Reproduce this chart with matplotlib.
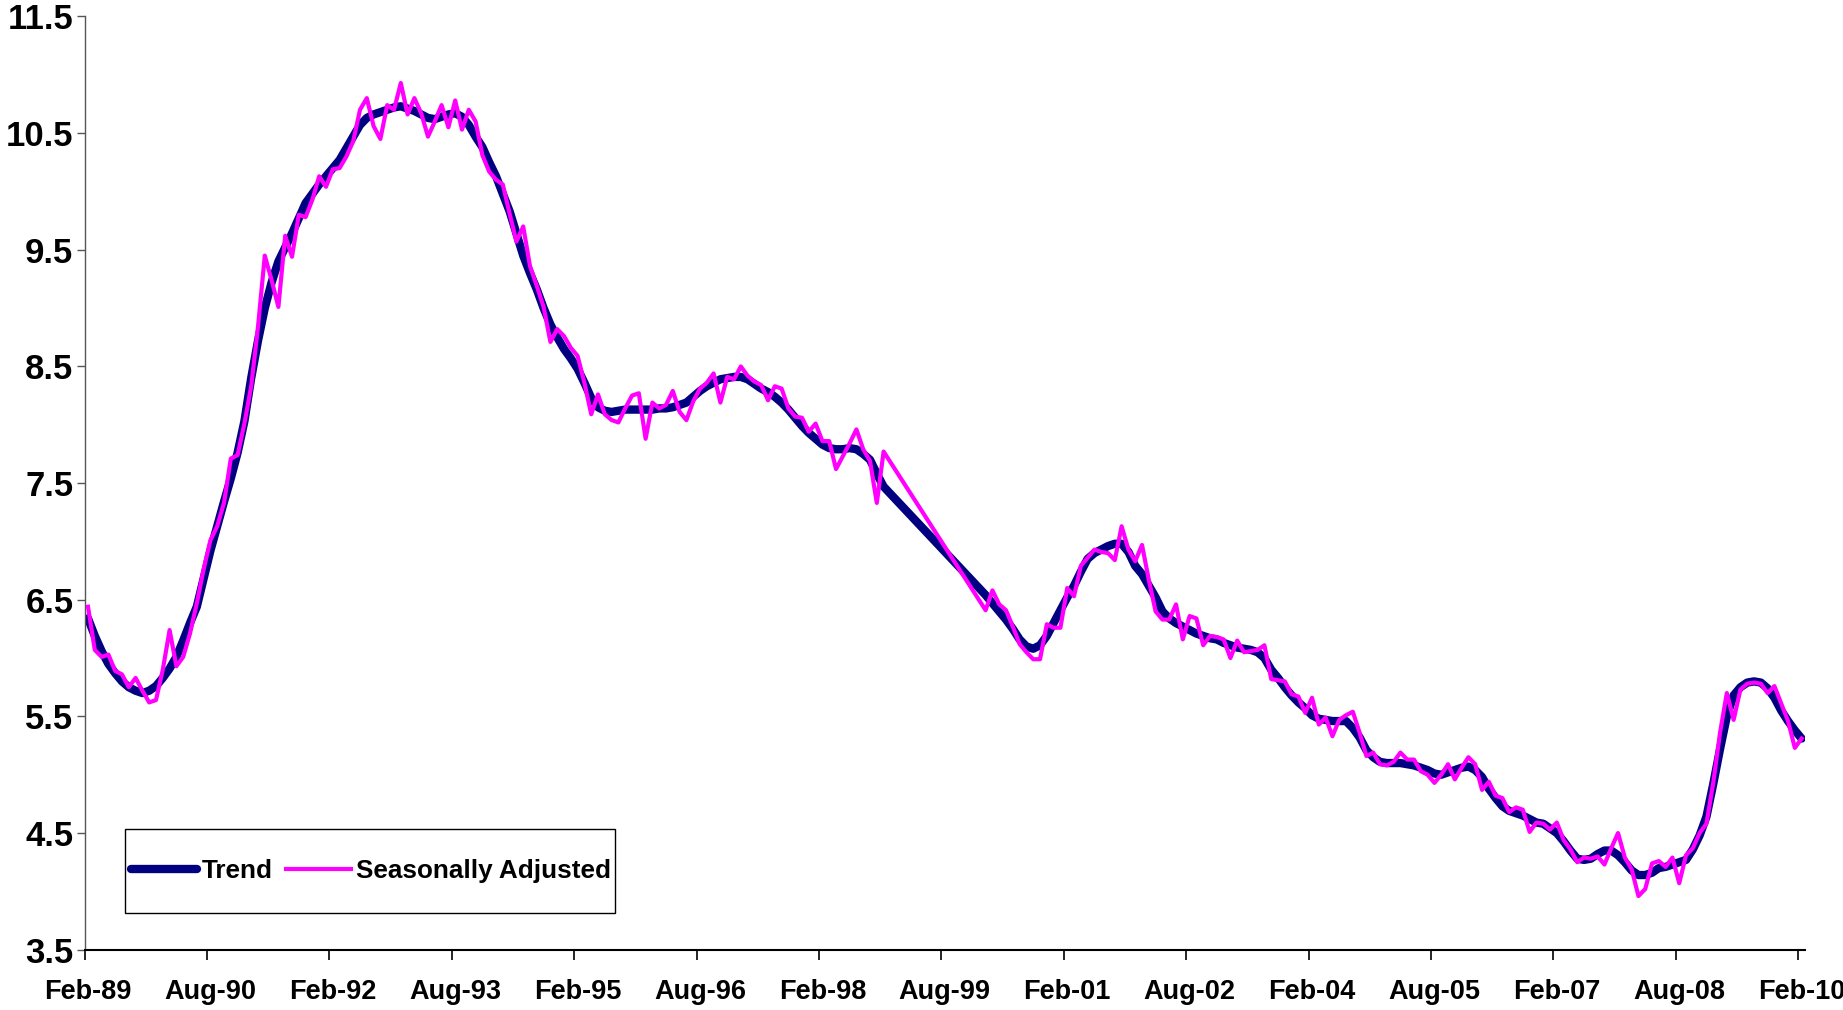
import numpy as np
import pandas as pd
import matplotlib
matplotlib.use("Agg")
import matplotlib.pyplot as plt
from matplotlib.patches import Rectangle

# ---------------- data ----------------
start_month = "1989-02"
n_months = 253

tick_labels = ["Feb-89", "Aug-90", "Feb-92", "Aug-93", "Feb-95", "Aug-96", "Feb-98",
               "Aug-99", "Feb-01", "Aug-02", "Feb-04", "Aug-05", "Feb-07", "Aug-08", "Feb-10"]

N = None
trend = [
    6.34, 6.19, 6.06, 5.95, 5.87, 5.80, 5.75, 5.72, 5.70, 5.72, 5.76, 5.83, 5.91, 6.01, 6.15, 6.30,
    6.44, 6.68, 6.92, 7.13, 7.34, 7.54, 7.76, 8.03, 8.40, 8.72, 9.00, 9.22, 9.40, 9.52, 9.64, 9.77,
    9.90, 9.98, 10.06, 10.13, 10.20, 10.27, 10.37, 10.47, 10.57, 10.63, 10.66, 10.68, 10.70, 10.72,
    10.73, 10.71, 10.69, 10.66, 10.63, 10.62, 10.64, 10.66, 10.67, 10.64, 10.57, 10.47, 10.38, 10.25,
    10.13, 9.98, 9.83, 9.64, 9.45, 9.30, 9.16, 9.00, 8.86, 8.75, 8.65, 8.57, 8.48, 8.36, 8.23, 8.15,
    8.12, 8.11, 8.12, 8.13, 8.13, 8.13, 8.13, 8.13, 8.14, 8.14, 8.15, 8.17, 8.19, 8.24, 8.29, 8.33,
    8.36, 8.39, 8.40, 8.41, 8.41, 8.39, 8.35, 8.31, 8.28, 8.24, 8.19, 8.13, 8.06, 7.99, 7.93, 7.88,
    7.83, 7.80, 7.79, 7.79, 7.80, 7.79, 7.75, 7.70, 7.58, 7.47,
    N, N, N, N, N, N, N, N, N, N, N, N, N, N,
    6.54, 6.47, 6.40, 6.33, 6.25, 6.16, 6.10, 6.08, 6.11, 6.19, 6.30, 6.41, 6.52, 6.62, 6.74, 6.85,
    6.90, 6.93, 6.96, 6.98, 6.98, 6.91, 6.79, 6.72, 6.62, 6.52, 6.40, 6.34, 6.30, 6.27, 6.24, 6.21,
    6.19, 6.17, 6.16, 6.13, 6.11, 6.09, 6.08, 6.07, 6.05, 6.00, 5.90, 5.83, 5.75, 5.68, 5.62, 5.57,
    5.51, 5.48, 5.47, 5.46, 5.46, 5.46, 5.40, 5.32, 5.21, 5.15, 5.11, 5.10, 5.10, 5.10, 5.09, 5.08,
    5.06, 5.04, 5.01, 5.00, 5.02, 5.04, 5.06, 5.07, 5.04, 4.98, 4.88, 4.80, 4.73, 4.69, 4.67, 4.65,
    4.62, 4.59, 4.58, 4.54, 4.50, 4.43, 4.35, 4.28, 4.27, 4.28, 4.32, 4.35, 4.35, 4.31, 4.25, 4.18,
    4.14, 4.14, 4.16, 4.20, 4.21, 4.23, 4.25, 4.27, 4.36, 4.48, 4.64, 4.92, 5.22, 5.50, 5.68, 5.75,
    5.79, 5.80, 5.79, 5.74, 5.66, 5.55, 5.46, 5.38, 5.31,
]

seasonally_adjusted = [
    6.44, 6.07, 6.01, 6.03, 5.89, 5.86, 5.75, 5.83, 5.72, 5.62, 5.64, 5.90, 6.24, 5.93, 6.01, 6.21,
    6.47, 6.76, 7.01, 7.13, 7.33, 7.71, 7.74, 8.01, 8.33, 8.84, 9.45, 9.24, 9.01, 9.62, 9.44, 9.80,
    9.78, 9.93, 10.13, 10.04, 10.19, 10.20, 10.30, 10.43, 10.70, 10.80, 10.56, 10.45, 10.74, 10.70,
    10.93, 10.66, 10.80, 10.67, 10.47, 10.60, 10.74, 10.55, 10.78, 10.53, 10.70, 10.60, 10.31, 10.17,
    10.10, 10.06, 9.81, 9.57, 9.70, 9.36, 9.19, 9.01, 8.71, 8.82, 8.76, 8.66, 8.59, 8.36, 8.09, 8.26,
    8.09, 8.04, 8.02, 8.14, 8.25, 8.27, 7.88, 8.19, 8.14, 8.17, 8.29, 8.11, 8.04, 8.20, 8.31, 8.36,
    8.44, 8.19, 8.41, 8.39, 8.50, 8.42, 8.37, 8.34, 8.21, 8.33, 8.31, 8.14, 8.07, 8.06, 7.94, 8.01,
    7.86, 7.86, 7.62, 7.73, 7.84, 7.96, 7.79, 7.69, 7.33, 7.77,
    N, N, N, N, N, N, N, N, N, N, N, N, N, N,
    6.41, 6.58, 6.46, 6.41, 6.27, 6.12, 6.05, 5.99, 5.99, 6.29, 6.26, 6.26, 6.60, 6.53, 6.79, 6.86,
    6.93, 6.91, 6.90, 6.84, 7.13, 6.93, 6.83, 6.97, 6.67, 6.40, 6.33, 6.33, 6.46, 6.16, 6.36, 6.34,
    6.11, 6.19, 6.18, 6.16, 6.00, 6.15, 6.05, 6.06, 6.07, 6.11, 5.82, 5.81, 5.80, 5.69, 5.67, 5.53,
    5.66, 5.43, 5.49, 5.33, 5.47, 5.51, 5.54, 5.36, 5.16, 5.19, 5.09, 5.08, 5.11, 5.19, 5.13, 5.13,
    5.03, 5.00, 4.93, 5.00, 5.09, 4.96, 5.06, 5.15, 5.09, 4.87, 4.94, 4.82, 4.80, 4.68, 4.72, 4.70,
    4.51, 4.59, 4.58, 4.53, 4.59, 4.44, 4.36, 4.25, 4.29, 4.28, 4.30, 4.23, 4.37, 4.50, 4.29, 4.19,
    3.96, 4.02, 4.24, 4.26, 4.21, 4.29, 4.07, 4.31, 4.37, 4.50, 4.58, 4.93, 5.36, 5.70, 5.47, 5.73,
    5.78, 5.79, 5.78, 5.70, 5.76, 5.61, 5.46, 5.23, 5.31,
]

y_ticks = [3.5, 4.5, 5.5, 6.5, 7.5, 8.5, 9.5, 10.5, 11.5]

# ---------------- figure ----------------
plt.rcParams["font.family"] = ["Liberation Sans", "DejaVu Sans"]
plt.rcParams["font.weight"] = "bold"

months = pd.period_range(start=start_month, periods=n_months, freq="M")
pos = np.arange(len(months)) + 0.5   # category centres

fig = plt.figure(figsize=(18.43, 10.10), dpi=100)
ax = fig.add_axes([0.0459, 0.0597, 0.9794 - 0.0459, 0.9837 - 0.0597])

tr = np.array([np.nan if v is None else v for v in trend], dtype=float)
sa = np.array([np.nan if v is None else v for v in seasonally_adjusted], dtype=float)
mt = ~np.isnan(tr)
ms = ~np.isnan(sa)

navy = "#000080"
magenta = "#FF00FF"
ax.plot(pos[mt], tr[mt], color=navy, lw=6.0, solid_joinstyle="round",
        solid_capstyle="round", label="Trend", zorder=2)
ax.plot(pos[ms], sa[ms], color=magenta, lw=3.0, solid_joinstyle="round",
        label="Seasonally Adjusted", zorder=3)

ax.set_xlim(0, n_months)
ax.set_ylim(3.5, 11.5)

major_x = np.arange(0, n_months, 18)
ax.set_xticks(major_x)
ax.set_xticklabels([])
ax.set_xticks(major_x + 0.5, minor=True)
ax.set_xticklabels(tick_labels, minor=True, fontsize=19.5, fontweight="bold")
ax.tick_params(axis="x", which="major", direction="out", length=7, width=1.2, color="black")
ax.tick_params(axis="x", which="minor", length=0, pad=21)

ax.set_yticks(y_ticks)
ax.set_yticklabels([f"{v:.1f}" for v in y_ticks], fontsize=25, fontweight="bold")
ax.tick_params(axis="y", direction="out", length=6, width=1.0, color="#555555", pad=2)

for s in ["top", "right"]:
    ax.spines[s].set_visible(False)
ax.spines["left"].set_color("#555555")
ax.spines["left"].set_linewidth(1.0)
ax.spines["bottom"].set_color("black")
ax.spines["bottom"].set_linewidth(1.5)

# legend box
bx0, bx1, by0, by1 = 0.02325, 0.3081, 0.039, 0.1297
ax.add_patch(Rectangle((bx0, by0), bx1 - bx0, by1 - by0, transform=ax.transAxes,
                       facecolor="white", edgecolor="black", lw=1.0, zorder=4))
leg = ax.legend(loc="center", bbox_to_anchor=((bx0 + bx1) / 2 + 0.001, (by0 + by1) / 2),
                ncol=2, frameon=False, handlelength=2.5,
                handletextpad=0.2, columnspacing=0.5, borderpad=0, borderaxespad=0,
                prop={"weight": "bold", "size": 18.8})
leg.set_zorder(5)

fig.savefig("out.png", dpi=100)
